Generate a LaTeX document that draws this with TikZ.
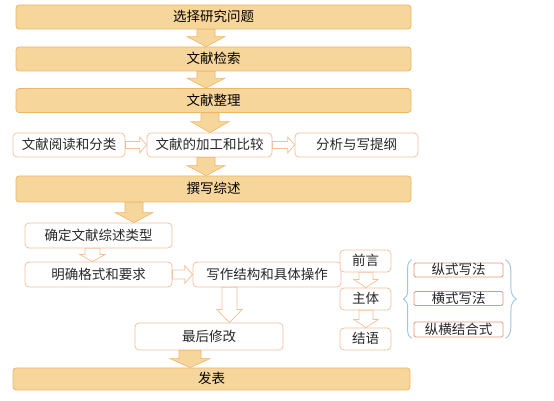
\documentclass[tikz,border=0pt]{standalone}
\usepackage{fontspec}
\newfontfamily\cjk{Noto Sans CJK SC}
\usetikzlibrary{calc,decorations.pathreplacing}

\definecolor{barfill}{RGB}{247,214,156}
\definecolor{barline}{RGB}{238,180,104}
\definecolor{boxline}{RGB}{244,192,156}
\definecolor{methodline}{RGB}{230,150,120}
\definecolor{bracecol}{RGB}{160,196,228}
\definecolor{txt}{RGB}{40,40,40}

\tikzset{every picture/.style={line width=0.75pt}}
\tikzset{
	stage/.style={draw=barline, fill=barfill, rounded corners=3pt, minimum width=395pt, minimum height=24pt, inner sep=0pt, text height=11.5pt, text depth=1.5pt, font=\cjk\fontsize{13.5}{15}\selectfont, text=black},
	task/.style={draw=boxline, fill=white, rounded corners=4pt, minimum height=24pt, inner sep=0pt, text height=11.5pt, text depth=1.5pt, font=\cjk\fontsize{13.5}{15}\selectfont, text=txt},
	method/.style={draw=methodline, fill=white, rounded corners=1.5pt, minimum width=89pt, minimum height=14pt, inner sep=0pt, text height=11.5pt, text depth=1.5pt, font=\cjk\fontsize{13.5}{15}\selectfont, text=txt},
	down block/.style n args={3}{to path={let \p1=(\tikztostart), \p2=(\tikztotarget) in
		(\x1-#1,\y1) -- (\x1-#1,\y2+#3) -- (\x1-#2,\y2+#3) -- (\x1,\y2) -- (\x1+#2,\y2+#3) -- (\x1+#1,\y2+#3) -- (\x1+#1,\y1) -- cycle}},
	right block/.style n args={3}{to path={let \p1=(\tikztostart), \p2=(\tikztotarget) in
		(\x1,\y1-#1) -- (\x2-#3,\y1-#1) -- (\x2-#3,\y1-#2) -- (\x2,\y1) -- (\x2-#3,\y1+#2) -- (\x2-#3,\y1+#1) -- (\x1,\y1+#1) -- cycle}},
	fillarrow/.style={draw=barline, fill=barfill, line width=0.6pt},
	linearrow/.style={draw=boxline, fill=white, line width=0.75pt},
	curly/.style={draw=bracecol, line width=0.9pt, decorate, decoration={brace, amplitude=#1}},
}

\begin{document}
\begin{tikzpicture}[x=1pt,y=1pt]
	\useasboundingbox (0,0) rectangle (554,401);
	
	%Shape: Bars
	\node[stage] (choose) at (213.5,384) {选择研究问题};
	\node[stage] (search) at (213.5,342) {文献检索};
	\node[stage] (sort) at (213.5,300.5) {文献整理};
	\node[stage, minimum height=26pt] (write) at (213.5,212) {撰写综述};
	\node[stage, minimum width=397pt, minimum height=22pt] (publish) at (211.5,22) {发表};
	
	%Shape: Rounded Rectangles
	\node[task, minimum width=112pt] (read) at (69,256) {文献阅读和分类};
	\node[task, minimum width=125pt] (process) at (209.5,256) {文献的加工和比较};
	\node[task, minimum width=123pt] (outline) at (356.5,256) {分析与写提纲};
	\node[task, minimum width=147pt, minimum height=25pt] (type) at (98.5,165.5) {确定文献综述类型};
	\node[task, minimum width=147pt, minimum height=25pt] (format) at (98.5,126.5) {明确格式和要求};
	\node[task, minimum width=148pt, minimum height=25pt] (structure) at (267,126.5) {写作结构和具体操作};
	\node[task, minimum width=148pt, minimum height=27pt] (revise) at (209,64.5) {最后修改};
	\node[task, minimum width=51pt, minimum height=22pt] (preface) at (365.5,140) {前言};
	\node[task, minimum width=51pt, minimum height=22pt] (body) at (365.5,102) {主体};
	\node[task, minimum width=51pt, minimum height=22pt] (ending) at (365.5,62) {结语};
	
	%Shape: Method Boxes
	\node[method] (vertical) at (458.5,131) {纵式写法};
	\node[method] (horizontal) at (458.5,102.5) {横式写法};
	\node[method, minimum height=15pt] (combined) at (458.5,71.5) {纵横结合式};
	
	%Block Arrows
	\draw[fillarrow, down block={9pt}{19pt}{10pt}] ([xshift=-7.5pt]choose.south) to (search.north);
	\draw[fillarrow, down block={9pt}{19pt}{10pt}] ([xshift=-7.5pt]search.south) to (sort.north);
	\draw[fillarrow, down block={9pt}{19pt}{11pt}] ([xshift=-3.5pt]sort.south) to (process.north);
	\draw[fillarrow, down block={9pt}{19pt}{10pt}] ([xshift=-3.5pt]process.south) to (write.north);
	\draw[fillarrow, down block={9pt}{19pt}{10pt}] ([xshift=-79.5pt]write.south) to (type.north);
	\draw[fillarrow, down block={11pt}{20pt}{9pt}] ([xshift=-19pt]revise.south) to (publish.north);
	\draw[linearrow, down block={7.5pt}{12.5pt}{7pt}] ([xshift=-6pt]type.south) to (format.north);
	\draw[linearrow, down block={7.5pt}{12.5pt}{13pt}] ([xshift=-37.5pt]structure.south) to (revise.north);
	\draw[linearrow, down block={7pt}{12pt}{8pt}] ([xshift=0.5pt]preface.south) to (body.north);
	\draw[linearrow, down block={7pt}{12pt}{8pt}] ([xshift=0.5pt]body.south) to (ending.north);
	\draw[linearrow, right block={3.5pt}{8pt}{7pt}] (read.east) to (process.west);
	\draw[linearrow, right block={3.5pt}{8pt}{7pt}] (process.east) to (outline.west);
	\draw[linearrow, right block={4.5pt}{9pt}{8pt}] (format.east) to (structure.west);
	
	%Braces
	\draw[curly=8pt] ([xshift=-2pt,yshift=-1pt]combined.south west) -- ([xshift=-2pt,yshift=3pt]vertical.north west);
	\draw[curly=11pt] ([xshift=2pt,yshift=3pt]vertical.north east) -- ([xshift=2pt,yshift=-1pt]combined.south east);
	
\end{tikzpicture}
\end{document}
